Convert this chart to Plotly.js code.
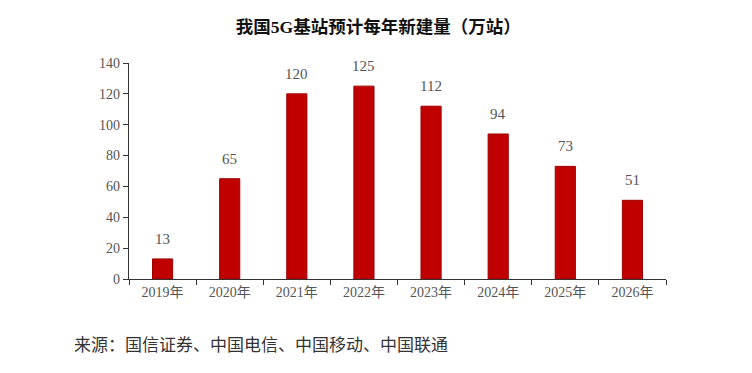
<!DOCTYPE html>
<html><head><meta charset="utf-8">
<script src="https://cdn.plot.ly/plotly-3.0.1.min.js"></script>
<style>html,body{margin:0;padding:0;background:#fff}</style>
</head><body>
<div id="chart" style="width:752px;height:373px"></div>
<script>
const categories = ["2019年","2020年","2021年","2022年","2023年","2024年","2025年","2026年"];
const values = [13, 65, 120, 125, 112, 94, 73, 51];
const yTicks = [0, 20, 40, 60, 80, 100, 120, 140];
const titleText = "我国5G基站预计每年新建量（万站）";
const sourceText = "来源：国信证券、中国电信、中国移动、中国联通";

const serif = "Liberation Serif, Noto Sans CJK SC, serif";
const trace = {
  type: "bar", x: categories, y: values,
  marker: {color: "#C00000", line: {color: "#9e0000", width: 1}},
  width: 0.30, hoverinfo: "none"
};
const valueLabels = categories.map((c, i) => ({
  x: c, y: values[i], xref: "x", yref: "y", text: String(values[i]),
  showarrow: false, yanchor: "middle", yshift: 20,
  font: {family: serif, size: 15, color: "#555"}
}));
const layout = {
  width: 752, height: 373,
  margin: {l: 129, r: 86, t: 63, b: 94},
  paper_bgcolor: "#fff", plot_bgcolor: "#fff",
  showlegend: false,
  title: {text: "<b>" + titleText + "</b>", x: 0.503, xanchor: "center", y: 0.927, yanchor: "middle",
          font: {family: serif, size: 17.5, color: "#111"}},
  xaxis: {type: "category", tickson: "boundaries", ticks: "outside", ticklen: 5, tickcolor: "#333",
          showline: true, linecolor: "#333", linewidth: 1.3, showgrid: false,
          tickfont: {family: serif, size: 14, color: "#555"}, range: [-0.5, 7.5]},
  yaxis: {range: [0, 140], tickvals: yTicks, ticks: "outside", ticklen: 5, tickcolor: "#333",
          showline: true, linecolor: "#333", linewidth: 1.3, showgrid: false, zeroline: false,
          tickfont: {family: serif, size: 14, color: "#555"}},
  annotations: valueLabels.concat([{text: sourceText, xref: "paper", yref: "paper", x: -0.106, y: -0.31,
                 xanchor: "left", yanchor: "middle", showarrow: false,
                 font: {family: serif, size: 17, color: "#333"}}])
};
Plotly.newPlot("chart", [trace], layout, {displayModeBar: false, staticPlot: true});
</script>
</body></html>
